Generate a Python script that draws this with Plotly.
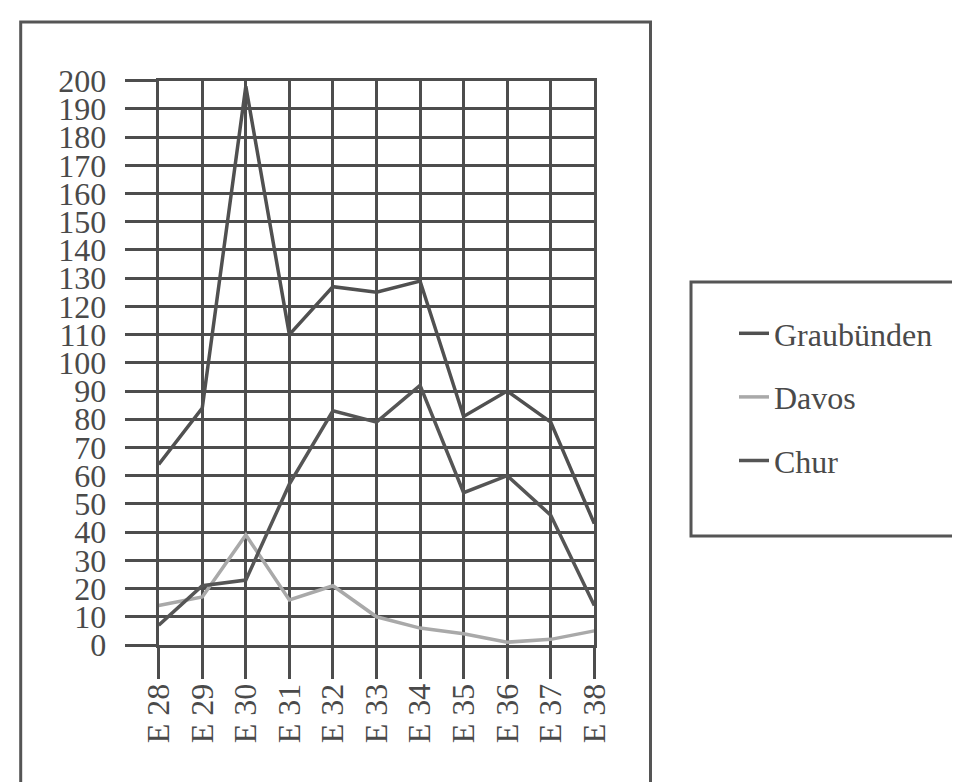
import plotly.graph_objects as go

weeks = [28, 29, 30, 31, 32, 33, 34, 35, 36, 37, 38]
week_labels = ["E 28", "E 29", "E 30", "E 31", "E 32", "E 33", "E 34", "E 35", "E 36", "E 37", "E 38"]
graubuenden = [64, 84, 198, 110, 127, 125, 129, 81, 90, 79, 43]
davos = [14, 17, 39, 16, 21, 10, 6, 4, 1, 2, 5]
chur = [7, 21, 23, 57, 83, 79, 92, 54, 60, 46, 14]
y_ticks = list(range(0, 201, 10))

W, H = 960, 782
GRID = "#4d4d4d"
TEXT = "#4a4a4a"
FONT = "Liberation Serif, Times New Roman, serif"

fig = go.Figure()
fig.add_trace(go.Scatter(x=weeks, y=graubuenden, mode="lines", name="Graubünden",
                         legendgroup="g", line=dict(color="#505050", width=3.5)))
fig.add_trace(go.Scatter(x=weeks, y=davos, mode="lines", name="Davos",
                         legendgroup="d", line=dict(color="#a9a9a9", width=3.5)))
fig.add_trace(go.Scatter(x=weeks, y=chur, mode="lines", name="Chur",
                         legendgroup="c", line=dict(color="#555555", width=3.5)))

axis_common = dict(
    showgrid=True, gridcolor=GRID, gridwidth=3,
    ticks="outside", ticklen=31, tickwidth=3, tickcolor=GRID,
    showline=True, mirror=True, linecolor=GRID, linewidth=3,
    zeroline=False, automargin=False,
    tickfont=dict(family=FONT, size=32, color=TEXT),
)

fig.update_layout(
    width=W, height=H,
    margin=dict(l=0, r=0, t=0, b=0),
    paper_bgcolor="white", plot_bgcolor="white",
    font=dict(family=FONT, size=32, color=TEXT),
    xaxis=dict(domain=[150.7 / W, 586.3 / W], range=[28, 38],
               tickmode="array", tickvals=weeks, ticktext=week_labels,
               tickangle=-90, ticklabelstandoff=-8, **axis_common),
    yaxis=dict(domain=[(H - 637) / H, (H - 72.7) / H], range=[0, 200],
               tickmode="array", tickvals=y_ticks, ticklabelstandoff=12,
               **axis_common),
    showlegend=True,
    legend=dict(x=726 / W, y=(H - 298) / H, xanchor="left", yanchor="top",
                bgcolor="rgba(0,0,0,0)", borderwidth=0,
                tracegroupgap=19, font=dict(family=FONT, size=32, color=TEXT)),
    shapes=[
        dict(type="rect", xref="paper", yref="paper",
             x0=12.7 / W, x1=642.5 / W, y0=-0.05, y1=(H - 14) / H,
             line=dict(color="#555555", width=3), layer="below"),
        dict(type="rect", xref="paper", yref="paper",
             x0=683 / W, x1=1.05, y0=(H - 528) / H, y1=(H - 274) / H,
             line=dict(color="#555555", width=3), layer="below"),
    ],
)

fig.write_html("out.html")
